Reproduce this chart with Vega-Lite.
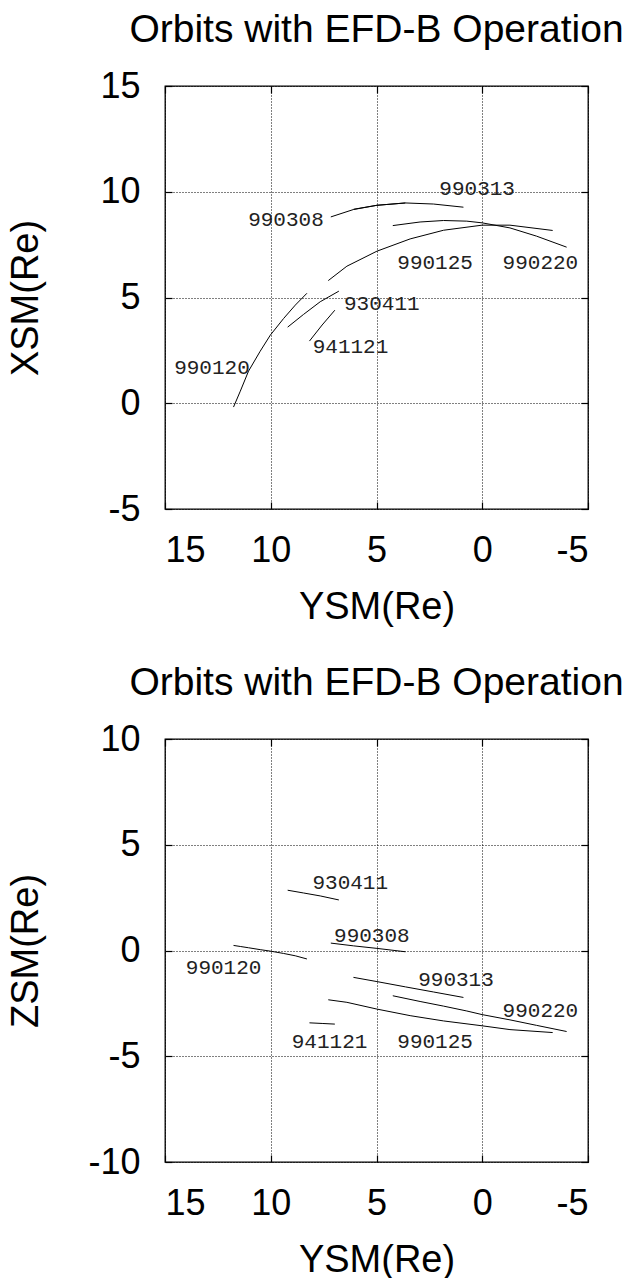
{
  "$schema": "https://vega.github.io/schema/vega-lite/v6.json",
  "background": "white",
  "padding": {"left": 6, "top": 10, "right": 0, "bottom": 0},
  "bounds": "flush",
  "spacing": 230,
  "config": {
    "view": {"stroke": "black", "strokeWidth": 1.3},
    "font": "Liberation Sans",
    "axis": {
      "grid": true, "gridColor": "black", "gridDash": [1, 2], "gridWidth": 1, "gridOpacity": 1,
      "domain": false, "ticks": true, "tickSize": -7, "tickColor": "black", "tickWidth": 1.2,
      "labelFont": "Liberation Sans", "labelFontSize": 36, "labelColor": "black",
      "labelExpr": "'' + datum.value",
      "titleFont": "Liberation Sans", "titleFontSize": 38, "titleFontWeight": "normal", "titleColor": "black"
    },
    "axisBottom": {"labelBaseline": "alphabetic", "labelPadding": 59, "titleY": 109, "titleX": 211.5, "titleBaseline": "alphabetic", "titleAlign": "center"},
    "axisLeft": {"labelPadding": 32, "titleX": -128, "titleY": 211.5, "titleAngle": -90, "titleBaseline": "alphabetic", "titleAlign": "center"},
    "axisTop": {"labels": false, "grid": false, "title": null},
    "axisRight": {"labels": false, "grid": false, "title": null},
    "title": {"font": "Liberation Sans", "fontSize": 39, "fontWeight": "normal", "color": "black", "anchor": "middle", "frame": "group", "baseline": "alphabetic", "offset": 18}
  },
  "datasets": {
    "orbits": [
      {"orbit": "990120", "Y": 11.76, "X": -0.18, "Z": 0.24},
      {"orbit": "990120", "Y": 11.44, "X": 0.57, "Z": 0.19},
      {"orbit": "990120", "Y": 11.05, "X": 1.52, "Z": 0.13},
      {"orbit": "990120", "Y": 10.50, "X": 2.46, "Z": 0.04},
      {"orbit": "990120", "Y": 10.02, "X": 3.22, "Z": -0.03},
      {"orbit": "990120", "Y": 9.39, "X": 4.01, "Z": -0.14},
      {"orbit": "990120", "Y": 8.84, "X": 4.64, "Z": -0.25},
      {"orbit": "990120", "Y": 8.29, "X": 5.20, "Z": -0.40},
      {"orbit": "930411", "Y": 9.20, "X": 3.60, "Z": 2.85},
      {"orbit": "930411", "Y": 8.45, "X": 4.20, "Z": 2.72},
      {"orbit": "930411", "Y": 7.66, "X": 4.80, "Z": 2.58},
      {"orbit": "930411", "Y": 6.78, "X": 5.30, "Z": 2.39},
      {"orbit": "941121", "Y": 8.17, "X": 2.94, "Z": -3.42},
      {"orbit": "941121", "Y": 7.57, "X": 3.70, "Z": -3.45},
      {"orbit": "941121", "Y": 6.97, "X": 4.40, "Z": -3.48},
      {"orbit": "990125", "Y": 7.28, "X": 5.80, "Z": -2.33},
      {"orbit": "990125", "Y": 6.40, "X": 6.48, "Z": -2.45},
      {"orbit": "990125", "Y": 4.98, "X": 7.19, "Z": -2.77},
      {"orbit": "990125", "Y": 3.41, "X": 7.77, "Z": -3.08},
      {"orbit": "990125", "Y": 1.83, "X": 8.18, "Z": -3.33},
      {"orbit": "990125", "Y": 0.01, "X": 8.42, "Z": -3.56},
      {"orbit": "990125", "Y": -1.31, "X": 8.42, "Z": -3.74},
      {"orbit": "990125", "Y": -3.33, "X": 8.17, "Z": -3.88},
      {"orbit": "990220", "Y": 4.23, "X": 8.40, "Z": -2.14},
      {"orbit": "990220", "Y": 2.94, "X": 8.57, "Z": -2.41},
      {"orbit": "990220", "Y": 1.83, "X": 8.64, "Z": -2.63},
      {"orbit": "990220", "Y": 0.73, "X": 8.61, "Z": -2.86},
      {"orbit": "990220", "Y": 0.01, "X": 8.53, "Z": -3.03},
      {"orbit": "990220", "Y": -1.31, "X": 8.29, "Z": -3.28},
      {"orbit": "990220", "Y": -2.57, "X": 7.90, "Z": -3.54},
      {"orbit": "990220", "Y": -3.99, "X": 7.38, "Z": -3.83},
      {"orbit": "990308", "Y": 7.16, "X": 8.81, "Z": 0.35},
      {"orbit": "990308", "Y": 6.09, "X": 9.16, "Z": 0.22},
      {"orbit": "990308", "Y": 4.98, "X": 9.36, "Z": 0.10},
      {"orbit": "990308", "Y": 3.63, "X": 9.47, "Z": -0.06},
      {"orbit": "990313", "Y": 6.09, "X": 9.17, "Z": -1.27},
      {"orbit": "990313", "Y": 4.98, "X": 9.36, "Z": -1.47},
      {"orbit": "990313", "Y": 3.63, "X": 9.47, "Z": -1.72},
      {"orbit": "990313", "Y": 2.31, "X": 9.42, "Z": -1.96},
      {"orbit": "990313", "Y": 0.89, "X": 9.27, "Z": -2.22}
    ],
    "labelsTop": [
      {"label": "990313", "Y": 0.24, "X": 10.15},
      {"label": "990308", "Y": 9.28, "X": 8.65},
      {"label": "990125", "Y": 2.23, "X": 6.64},
      {"label": "990220", "Y": -2.75, "X": 6.64},
      {"label": "930411", "Y": 4.75, "X": 4.67},
      {"label": "941121", "Y": 6.23, "X": 2.65},
      {"label": "990120", "Y": 12.78, "X": 1.68}
    ],
    "labelsBottom": [
      {"label": "930411", "Y": 6.24, "Z": 3.18},
      {"label": "990308", "Y": 5.22, "Z": 0.68},
      {"label": "990120", "Y": 12.23, "Z": -0.85},
      {"label": "990313", "Y": 1.24, "Z": -1.38},
      {"label": "990220", "Y": -2.75, "Z": -2.85},
      {"label": "941121", "Y": 7.22, "Z": -4.34},
      {"label": "990125", "Y": 2.23, "Z": -4.34}
    ]
  },
  "vconcat": [
    {
      "width": 423, "height": 423,
      "title": {"text": "Orbits with EFD-B Operation"},
      "resolve": {"axis": {"x": "independent", "y": "independent"}},
      "layer": [
        {
          "data": {"name": "orbits"},
          "mark": {"type": "line", "color": "black", "strokeWidth": 1},
          "encoding": {
            "x": {"field": "Y", "type": "quantitative", "scale": {"domain": [-5, 15], "reverse": true, "nice": false, "zero": false}, "axis": {"title": "YSM(Re)", "values": [15, 10, 5, 0, -5]}},
            "y": {"field": "X", "type": "quantitative", "scale": {"domain": [-5, 15], "nice": false, "zero": false}, "axis": {"title": "XSM(Re)", "values": [-5, 0, 5, 10, 15]}},
            "detail": {"field": "orbit"}
          }
        },
        {
          "data": {"name": "labelsTop"},
          "mark": {"type": "text", "font": "Liberation Mono", "fontSize": 21, "color": "#222", "align": "center", "baseline": "middle"},
          "encoding": {
            "x": {"field": "Y", "type": "quantitative", "axis": {"orient": "top", "values": [15, 10, 5, 0, -5]}},
            "y": {"field": "X", "type": "quantitative", "axis": {"orient": "right", "values": [-5, 0, 5, 10, 15]}},
            "text": {"field": "label"}
          }
        }
      ]
    },
    {
      "width": 423, "height": 423,
      "title": {"text": "Orbits with EFD-B Operation"},
      "resolve": {"axis": {"x": "independent", "y": "independent"}},
      "layer": [
        {
          "data": {"name": "orbits"},
          "mark": {"type": "line", "color": "black", "strokeWidth": 1},
          "encoding": {
            "x": {"field": "Y", "type": "quantitative", "scale": {"domain": [-5, 15], "reverse": true, "nice": false, "zero": false}, "axis": {"title": "YSM(Re)", "values": [15, 10, 5, 0, -5]}},
            "y": {"field": "Z", "type": "quantitative", "scale": {"domain": [-10, 10], "nice": false, "zero": false}, "axis": {"title": "ZSM(Re)", "values": [-10, -5, 0, 5, 10]}},
            "detail": {"field": "orbit"}
          }
        },
        {
          "data": {"name": "labelsBottom"},
          "mark": {"type": "text", "font": "Liberation Mono", "fontSize": 21, "color": "#222", "align": "center", "baseline": "middle"},
          "encoding": {
            "x": {"field": "Y", "type": "quantitative", "axis": {"orient": "top", "values": [15, 10, 5, 0, -5]}},
            "y": {"field": "Z", "type": "quantitative", "axis": {"orient": "right", "values": [-10, -5, 0, 5, 10]}},
            "text": {"field": "label"}
          }
        }
      ]
    }
  ]
}
